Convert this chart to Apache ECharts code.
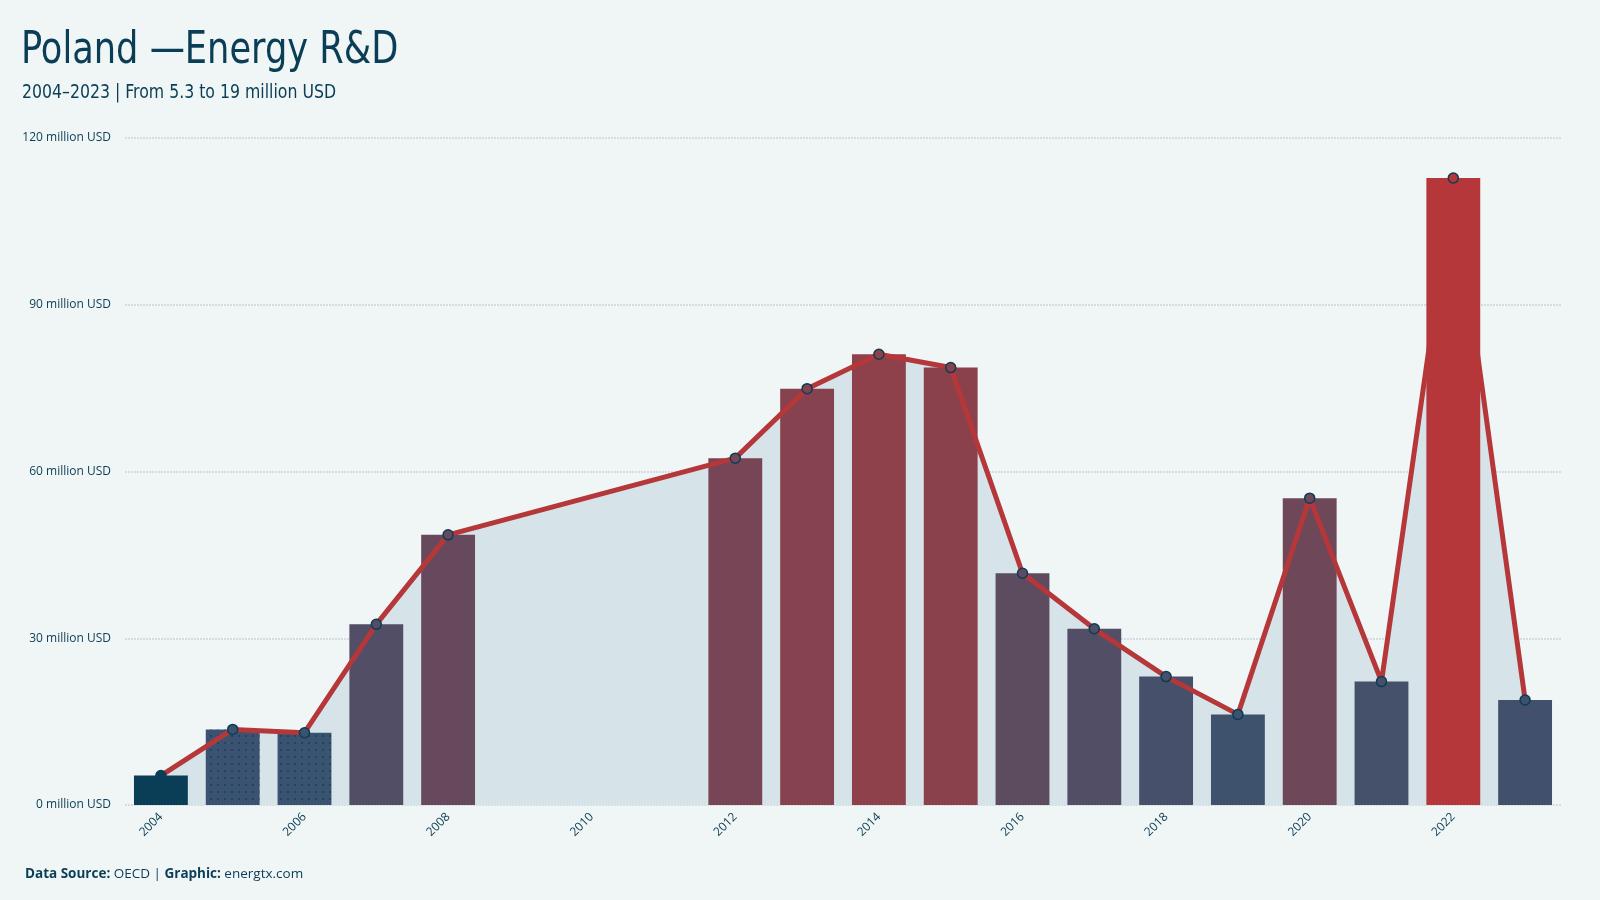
<!DOCTYPE html>
<html>
<head>
<meta charset="utf-8">
<style>
html,body{margin:0;padding:0;background:#f0f5f5;}
#chart{width:1600px;height:900px;}
</style>
<script src="https://cdn.jsdelivr.net/npm/echarts@6/dist/echarts.min.js"></script>
</head>
<body>
<div id="chart"></div>
<script>
const years = ['2004','2005','2006','2007','2008','2009','2010','2011','2012','2013','2014','2015','2016','2017','2018','2019','2020','2021','2022','2023'];
const values = [5.3, 13.6, 13.0, 32.5, 48.6, null, null, null, 62.4, 74.9, 81.1, 78.7, 41.7, 31.7, 23.1, 16.3, 55.2, 22.2, 112.8, 18.9];
const yTicks = [0, 30, 60, 90, 120];
const dottedYears = ['2005', '2006'];

const dark = '#0a3d56';
const lowC = [58, 83, 112];
const highC = [181, 55, 58];
const rest = values.filter((v, i) => v != null && i > 0);
const vMin = Math.min(...rest), vMax = Math.max(...rest);
function barColor(i, v) {
  if (i === 0) return dark;
  const t = Math.max(0, Math.min(1, (v - vMin) / (vMax - vMin)));
  const c = lowC.map((a, k) => Math.round(a + (highC[k] - a) * t));
  return 'rgb(' + c.join(',') + ')';
}
const barData = values.map((v, i) => ({
  value: v,
  itemStyle: {
    color: v == null ? 'transparent' : barColor(i, v),
    decal: dottedYears.includes(years[i]) ? {
      symbol: 'rect', symbolSize: 1, color: 'rgba(10,61,86,0.6)',
      dashArrayX: [1.5, 4.5], dashArrayY: [1.5, 4.5], rotation: 0
    } : null
  }
}));

const chart = echarts.init(document.getElementById('chart'));
const font = '"Open Sans", "DejaVu Sans", sans-serif';
const condFont = '"DejaVu Sans Condensed", "DejaVu Sans", sans-serif';
chart.setOption({
  backgroundColor: '#f0f5f5',
  animation: false,
  aria: { enabled: false },
  graphic: [
    { type: 'text', left: 21, top: 29, scaleX: 0.87,
      style: { text: 'Poland \u2014Energy R&D', font: 'normal 45px ' + condFont, fill: '#0a3d56' } },
    { type: 'text', left: 22, top: 83, scaleX: 0.875,
      style: { text: '2004\u20132023 | From 5.3 to 19 million USD', font: 'normal 20px ' + condFont, fill: '#0a3d56' } }
  ],
  title: [
    { text: '{b|Data Source:} OECD | {b|Graphic:} energtx.com', left: 20, top: 862,
      textStyle: { rich: {
        b: { fontFamily: font, fontSize: 13.5, fontWeight: 'bold', color: '#0a3d56' }
      }, fontFamily: font, fontSize: 13.5, fontWeight: 'normal', color: '#0a3d56' } }
  ],
  grid: { left: 125, right: 39, top: 138, bottom: 95 },
  xAxis: {
    type: 'category', data: years,
    axisLine: { show: false }, axisTick: { show: false },
    axisLabel: { interval: 1, rotate: 45, fontFamily: font, fontSize: 12, color: '#0a3d56', margin: 10 }
  },
  yAxis: {
    type: 'value', min: yTicks[0], max: yTicks[yTicks.length - 1], interval: 30,
    axisLine: { show: false }, axisTick: { show: false },
    axisLabel: { formatter: v => v + ' million USD', fontFamily: font, fontSize: 12, color: '#0a3d56', margin: 14 },
    splitLine: { lineStyle: { color: '#c8d7dc', width: 1.5, type: [2, 1] } }
  },
  series: [
    { type: 'line', data: values, connectNulls: true, z: 1, symbol: 'none',
      lineStyle: { width: 0 }, areaStyle: { color: '#d6e3e8', opacity: 1 } },
    { type: 'bar', data: barData, barWidth: '75%', z: 2 },
    { type: 'line', data: values, connectNulls: true, z: 3,
      symbol: 'circle', symbolSize: 10,
      lineStyle: { color: '#b5373a', width: 5 },
      itemStyle: { color: p => barColor(p.dataIndex, p.value), borderColor: '#0a3d56', borderWidth: 1.5 } }
  ]
});
</script>
</body>
</html>
